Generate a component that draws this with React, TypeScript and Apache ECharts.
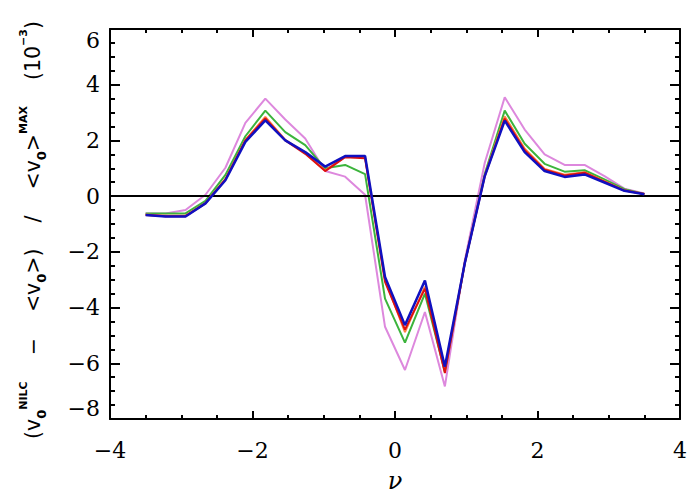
import React, { useEffect, useRef } from "react";
import * as echarts from "echarts";

const NU = [-3.5, -3.22, -2.94, -2.66, -2.38, -2.1, -1.82, -1.54, -1.26, -0.98, -0.7, -0.42, -0.14, 0.14, 0.42, 0.7, 0.98, 1.26, 1.54, 1.82, 2.1, 2.38, 2.66, 2.94, 3.22, 3.5];

const VIOLET = [-0.62, -0.62, -0.5, 0.05, 1.02, 2.63, 3.5, 2.75, 2.07, 0.9, 0.7, 0.05, -4.69, -6.24, -4.16, -6.83, -2.3, 1.2, 3.55, 2.39, 1.5, 1.12, 1.12, 0.72, 0.27, 0.1];
const GREEN = [-0.62, -0.62, -0.62, -0.17, 0.76, 2.15, 3.07, 2.3, 1.83, 1.0, 1.12, 0.79, -3.68, -5.26, -3.5, -6.3, -2.4, 0.8, 3.07, 1.88, 1.16, 0.88, 0.93, 0.6, 0.25, 0.08];
const ORANGE = [-0.66, -0.7, -0.7, -0.24, 0.62, 2.02, 2.84, 2.02, 1.55, 0.92, 1.42, 1.4, -3.0, -4.88, -3.25, -6.25, -2.38, 0.75, 2.86, 1.7, 0.98, 0.77, 0.86, 0.54, 0.21, 0.08];
const RED = [-0.68, -0.72, -0.72, -0.26, 0.6, 2.0, 2.79, 2.0, 1.52, 0.9, 1.4, 1.36, -3.08, -4.79, -3.32, -6.35, -2.4, 0.72, 2.78, 1.65, 0.95, 0.74, 0.84, 0.52, 0.2, 0.08];
const BLUE = [-0.68, -0.73, -0.73, -0.26, 0.57, 1.95, 2.72, 2.0, 1.58, 1.06, 1.44, 1.44, -2.9, -4.63, -3.03, -6.12, -2.4, 0.72, 2.71, 1.58, 0.9, 0.69, 0.78, 0.49, 0.19, 0.07];

const X_MIN = -4, X_MAX = 4, X_STEP = 2;
const Y_MIN = -8, Y_MAX = 6, Y_STEP = 2;

const SERIES = [
  { name: "violet", values: VIOLET, color: "#DD88DD", width: 2 },
  { name: "green", values: GREEN, color: "#3CB43C", width: 2 },
  { name: "orange", values: ORANGE, color: "#FF7F40", width: 2 },
  { name: "red", values: RED, color: "#DD1010", width: 2 },
  { name: "blue", values: BLUE, color: "#1010C0", width: 2.5 },
];

const black = "#000";
const SERIF = "DejaVu Serif";
const SANS = "DejaVu Sans";
const tickFont = { fontFamily: SERIF, fontSize: 22, color: black };
const fmt = (v: number) => String(v).replace("-", "−");

function makeX(position: "bottom" | "top", withLabels: boolean) {
  return {
    type: "value",
    position,
    min: X_MIN,
    max: X_MAX,
    interval: X_STEP,
    axisLine: { show: true, onZero: false, lineStyle: { color: black, width: 2 } },
    axisTick: { show: true, inside: true, length: 8, lineStyle: { color: black, width: 2 } },
    minorTick: { show: true, splitNumber: 4, length: 4, lineStyle: { color: black, width: 2 } },
    splitLine: { show: false },
    minorSplitLine: { show: false },
    axisLabel: withLabels ? { show: true, margin: 20, formatter: fmt, ...tickFont } : { show: false },
    ...(withLabels
      ? {
          name: "ν",
          nameLocation: "middle",
          nameGap: 50,
          nameTextStyle: { fontFamily: SERIF, fontStyle: "italic", fontSize: 24, color: black },
        }
      : {}),
  };
}

const yName =
  "{p|(v}{sb|0}{sp|NILC}{p|    −    <v}{sb|0}{p|>)    /    <v}{sb|0}{p|>}{sp|MAX}{p|    (10}{sp|−3}{p|)}";

function makeY(position: "left" | "right", withLabels: boolean) {
  return {
    type: "value",
    position,
    min: Y_MIN,
    max: Y_MAX,
    interval: Y_STEP,
    axisLine: { show: true, onZero: false, lineStyle: { color: black, width: 2 } },
    axisTick: { show: true, inside: true, length: 10, lineStyle: { color: black, width: 2 } },
    minorTick: { show: true, splitNumber: 4, length: 5, lineStyle: { color: black, width: 2 } },
    splitLine: { show: false },
    minorSplitLine: { show: false },
    axisLabel: withLabels
      ? {
          show: true,
          margin: 10,
          formatter: fmt,
          verticalAlignMaxLabel: "top",
          verticalAlignMinLabel: "bottom",
          ...tickFont,
        }
      : { show: false },
    ...(withLabels
      ? {
          name: yName,
          nameLocation: "middle",
          nameGap: 62,
          nameTextStyle: {
            color: black,
            padding: [0, 12, 0, 0],
            rich: {
              p: { fontFamily: SANS, fontSize: 20.5, lineHeight: 30, color: black },
              sb: { fontFamily: SANS, fontSize: 13, fontWeight: "bold", lineHeight: 14, verticalAlign: "bottom", color: black },
              sp: { fontFamily: SANS, fontSize: 11, fontWeight: "bold", lineHeight: 12, verticalAlign: "top", color: black },
            },
          },
        }
      : {}),
  };
}

export default function App() {
  const ref = useRef<HTMLDivElement>(null);
  useEffect(() => {
    if (!ref.current) return;
    const chart = echarts.init(ref.current, null, { renderer: "svg" });
    chart.setOption({
      animation: false,
      backgroundColor: "#fff",
      grid: { left: 110, right: 20, top: 29, bottom: 81, containLabel: false },
      xAxis: [makeX("bottom", true), makeX("top", false)],
      yAxis: [makeY("left", true), makeY("right", false)],
      series: SERIES.map((s, k) => ({
        type: "line",
        name: s.name,
        xAxisIndex: 0,
        yAxisIndex: 0,
        data: NU.map((x, i) => [x, s.values[i]]),
        showSymbol: false,
        symbol: "none",
        lineStyle: { color: s.color, width: s.width },
        itemStyle: { color: s.color },
        z: 3 + k,
        ...(k === 0
          ? {
              markLine: {
                silent: true,
                symbol: "none",
                label: { show: false },
                lineStyle: { color: black, width: 2, type: "solid" },
                data: [{ yAxis: 0 }],
              },
            }
          : {}),
      })),
    });
    return () => chart.dispose();
  }, []);
  return (
    <div
      ref={ref}
      style={{ position: "fixed", left: 0, top: 0, width: 700, height: 500, background: "#fff" }}
    />
  );
}
